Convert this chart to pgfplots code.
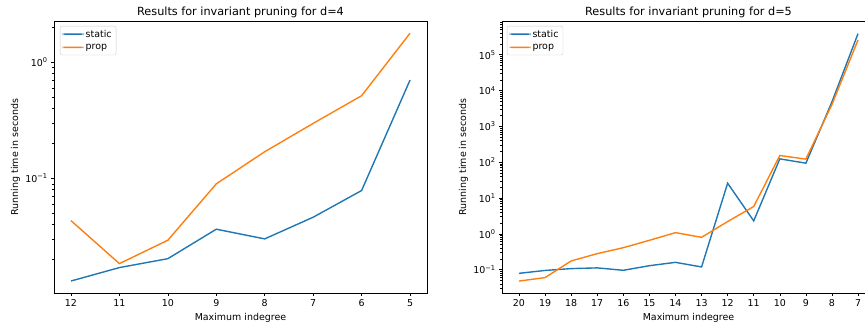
\documentclass[border=0pt]{standalone}
\usepackage{fontspec}
\setmainfont{DejaVu Sans}
\usepackage{pgfplots}
\pgfplotsset{compat=1.18}
\definecolor{tabblue}{HTML}{1F77B4}
\definecolor{taborange}{HTML}{FF7F0E}
\pgfplotsset{
  mpl/.style={
    scale only axis, width=373bp, height=272bp,
    tick pos=left, tick align=outside,
    major tick length=2.8bp, minor tick length=1.6bp,
    every tick/.style={black, line width=0.6bp},
    axis line style={line width=0.7bp},
    tick label style={font=\fontsize{9.5}{11}\selectfont},
    label style={font=\fontsize{9.5}{11}\selectfont},
    every axis title shift=0pt,
    title style={font=\fontsize{11.3}{13}\selectfont, at={(axis description cs:0.5,1)}, anchor=south, inner sep=0pt, yshift=3.3bp},
    xlabel={Maximum indegree}, ylabel={Running time in seconds},
    xlabel style={at={(axis description cs:0.5,0)}, anchor=center, yshift=-25bp},
    legend cell align=left,
    legend image code/.code={\fill[##1, draw=none] (0bp,-0.4bp) rectangle (21bp,1.1bp);},
    legend style={anchor=north west, draw=black!20, rounded corners=2bp,
      font=\fontsize{9.5}{11}\selectfont, inner xsep=2.5bp, inner ysep=2bp, row sep=1.5bp},
  },
  ln/.style={line width=1.4bp},
}
\begin{document}
\begin{tikzpicture}
\clip (0,0) rectangle (865bp,327bp);
\begin{axis}[ymode=log, mpl, at={(54bp,34bp)}, anchor=south west,
  title={Results for invariant pruning for d=4},
  xmin=-0.35, xmax=7.35, ymin=0.01033, ymax=2.27,
  xtick={0,...,7}, xticklabels={12,11,10,9,8,7,6,5},
  ytick={0.1,1}, yticklabels={10\textsuperscript{−1},10\textsuperscript{0}},
  minor ytick={0.02,0.03,0.04,0.05,0.06,0.07,0.08,0.09,0.2,0.3,0.4,0.5,0.6,0.7,0.8,0.9,2},
  ylabel style={at={(axis description cs:-0.103,0.5)}, anchor=center, rotate=0},
  legend style={at={(axis description cs:0.016,0.982)}},
]
\addplot[tabblue, ln] coordinates {(0,0.0131)(1,0.0171)(2,0.0204)(3,0.0366)(4,0.0302)(5,0.0464)(6,0.0788)(7,0.704)};
\addplot[taborange, ln] coordinates {(0,0.0434)(1,0.0185)(2,0.0294)(3,0.0899)(4,0.170)(5,0.298)(6,0.516)(7,1.78)};
\legend{static,prop}
\end{axis}
\begin{axis}[ymode=log, mpl, at={(502bp,34bp)}, anchor=south west,
  title={Results for invariant pruning for d=5},
  xmin=-0.65, xmax=13.65, ymin=0.0223, ymax=8.77e5,
  xtick={0,...,13}, xticklabels={20,19,18,17,16,15,14,13,12,11,10,9,8,7},
  ytick={0.1,1,10,100,1000,10000,100000},
  yticklabels={10\textsuperscript{−1},10\textsuperscript{0},10\textsuperscript{1},10\textsuperscript{2},10\textsuperscript{3},10\textsuperscript{4},10\textsuperscript{5}},
  minor ytick={0.03,0.04,0.05,0.06,0.07,0.08,0.09,0.2,0.3,0.4,0.5,0.6,0.7,0.8,0.9,2,3,4,5,6,7,8,9,20,30,40,50,60,70,80,90,200,300,400,500,600,700,800,900,2000,3000,4000,5000,6000,7000,8000,9000,2e4,3e4,4e4,5e4,6e4,7e4,8e4,9e4,2e5,3e5,4e5,5e5,6e5,7e5,8e5},
  ylabel style={at={(axis description cs:-0.103,0.5)}, anchor=center, rotate=0},
  legend style={at={(axis description cs:0.013,0.982)}},
]
\addplot[tabblue, ln] coordinates {(0,0.079)(1,0.095)(2,0.107)(3,0.112)(4,0.096)(5,0.129)(6,0.16)(7,0.119)(8,25.9)(9,2.30)(10,124)(11,94)(12,4870)(13,3.9e5)};
\addplot[taborange, ln] coordinates {(0,0.048)(1,0.060)(2,0.175)(3,0.28)(4,0.41)(5,0.66)(6,1.08)(7,0.80)(8,2.2)(9,5.8)(10,154)(11,122)(12,4100)(13,2.6e5)};
\legend{static,prop}
\end{axis}
\end{tikzpicture}
\end{document}
